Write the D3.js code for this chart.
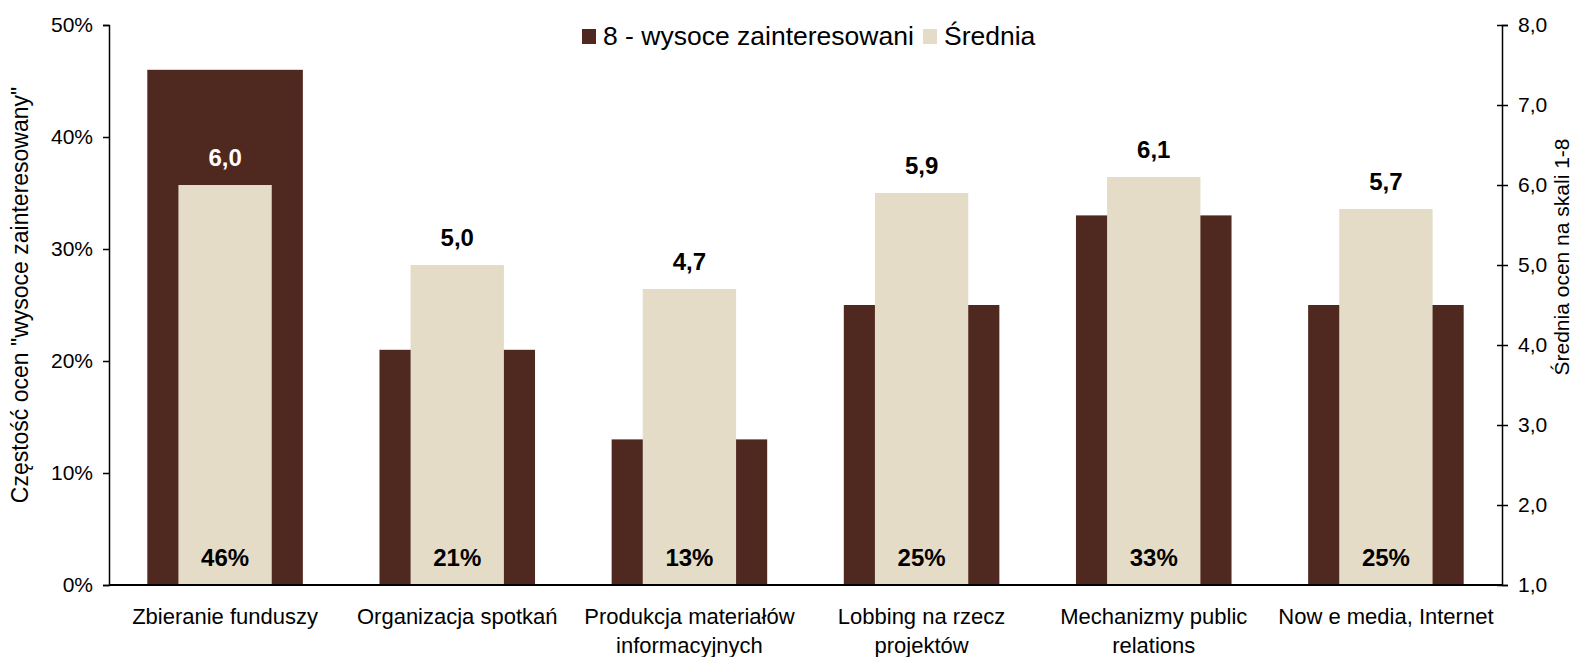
<!DOCTYPE html>
<html>
<head>
    <script src="https://d3js.org/d3.v7.min.js"></script>
    <style>
        body { margin: 0; background: #fff; }
        text { font-family: Arial, "Liberation Sans", sans-serif; }
    </style>
</head>
<body>
    <svg width="1581" height="657"></svg>
    <script>
    // data
    var categories = [
        ["Zbieranie funduszy"],
        ["Organizacja spotkań"],
        ["Produkcja materiałów", "informacyjnych"],
        ["Lobbing na rzecz", "projektów"],
        ["Mechanizmy public", "relations"],
        ["Now e media, Internet"]
    ];
    var highShare = [46, 21, 13, 25, 33, 25];        // % "8 - wysoce zainteresowani"
    var meanScore = [6.0, 5.0, 4.7, 5.9, 6.1, 5.7];  // średnia 1-8
    var leftTicks = [0, 10, 20, 30, 40, 50];
    var rightTicks = [1, 2, 3, 4, 5, 6, 7, 8];
    var seriesNames = ["8 - wysoce zainteresowani", "Średnia"];

    var darkCol = "#4F2820", lightCol = "#E4DCC7";
    // plot box (note: "top" is taken by window.top, hence the prefixes)
    var pLeft = 109, pRight = 1502, pTop = 25, pBottom = 585;

    var svg = d3.select("svg");

    var x = d3.scaleBand().domain(d3.range(categories.length))
        .range([pLeft, pRight]).paddingInner(0.33).paddingOuter(0.165);
    var yL = d3.scaleLinear().domain([0, 50]).range([pBottom, pTop]);
    var yR = d3.scaleLinear().domain([1, 8]).range([pBottom, pTop]);
    var fmt = function(v){ return d3.format(".1f")(v).replace(".", ","); };

    // dark bars (left axis)
    svg.selectAll("rect.dark").data(highShare).join("rect").attr("class", "dark")
        .attr("x", function(d, i){ return x(i); })
        .attr("width", x.bandwidth())
        .attr("y", function(d){ return yL(d); })
        .attr("height", function(d){ return pBottom - yL(d); })
        .attr("fill", darkCol);

    // light bars (right axis), narrower, centred on the dark ones
    var lw = x.bandwidth() * 0.6;
    svg.selectAll("rect.light").data(meanScore).join("rect").attr("class", "light")
        .attr("x", function(d, i){ return x(i) + (x.bandwidth() - lw) / 2; })
        .attr("width", lw)
        .attr("y", function(d){ return yR(d); })
        .attr("height", function(d){ return pBottom - yR(d); })
        .attr("fill", lightCol);

    // mean labels
    svg.selectAll("text.mean").data(meanScore).join("text").attr("class", "mean")
        .attr("x", function(d, i){ return x(i) + x.bandwidth() / 2; })
        .attr("y", function(d){ return yR(d) - 19; })
        .attr("text-anchor", "middle")
        .attr("font-size", 24).attr("font-weight", "bold")
        .attr("fill", function(d, i){ return yL(highShare[i]) < yR(d) - 40 ? "#fff" : "#000"; })
        .text(fmt);

    // percent labels at the bottom
    svg.selectAll("text.pct").data(highShare).join("text").attr("class", "pct")
        .attr("x", function(d, i){ return x(i) + x.bandwidth() / 2; })
        .attr("y", 566)
        .attr("text-anchor", "middle")
        .attr("font-size", 24).attr("font-weight", "bold")
        .text(function(d){ return d + "%"; });

    // left axis
    var gL = svg.append("g").attr("transform", "translate(" + pLeft + ",0)")
        .call(d3.axisLeft(yL).tickValues(leftTicks).tickSize(6).tickPadding(10)
            .tickFormat(function(d){ return d + "%"; }));
    // right axis
    var gR = svg.append("g").attr("transform", "translate(" + pRight + ",0)")
        .call(d3.axisRight(yR).tickValues(rightTicks).tickSize(6).tickPadding(10)
            .tickFormat(fmt));
    gR.selectAll(".tick line").attr("x1", -5);
    [gL, gR].forEach(function(g){
        g.select(".domain").attr("stroke", "#000").attr("stroke-width", 1.5);
        g.selectAll(".tick line").attr("stroke", "#000").attr("stroke-width", 1.5);
        g.selectAll(".tick text").attr("font-size", 21).attr("fill", "#000")
            .attr("font-family", "Arial, 'Liberation Sans', sans-serif");
    });

    // bottom axis line
    svg.append("line").attr("x1", pLeft).attr("x2", pRight)
        .attr("y1", pBottom).attr("y2", pBottom)
        .attr("stroke", "#000").attr("stroke-width", 2);

    // category labels
    svg.selectAll("text.cat").data(categories).join("text").attr("class", "cat")
        .attr("text-anchor", "middle").attr("font-size", 22)
        .each(function(lines, i){
            d3.select(this).selectAll("tspan").data(lines).join("tspan")
                .attr("x", x(i) + x.bandwidth() / 2)
                .attr("y", function(l, j){ return 624 + j * 29; })
                .text(function(l){ return l; });
        });

    // axis titles
    svg.append("text")
        .attr("transform", "translate(28,295) rotate(-90)")
        .attr("text-anchor", "middle").attr("font-size", 23)
        .text("Częstość ocen \"wysoce zainteresowany\"");
    svg.append("text")
        .attr("transform", "translate(1569,257) rotate(-90)")
        .attr("text-anchor", "middle").attr("font-size", 21)
        .text("Średnia ocen na skali 1-8");

    // legend
    var legX = [582, 923], legCol = [darkCol, lightCol];
    var leg = svg.selectAll("g.leg").data(seriesNames).join("g").attr("class", "leg")
        .attr("transform", function(d, i){ return "translate(" + legX[i] + ",0)"; });
    leg.append("rect").attr("x", 0).attr("y", 29).attr("width", 14).attr("height", 15)
        .attr("fill", function(d, i){ return legCol[i]; });
    leg.append("text").attr("x", 21).attr("y", 45).attr("font-size", 26.5)
        .text(function(d){ return d; });
    </script>
</body>
</html>
